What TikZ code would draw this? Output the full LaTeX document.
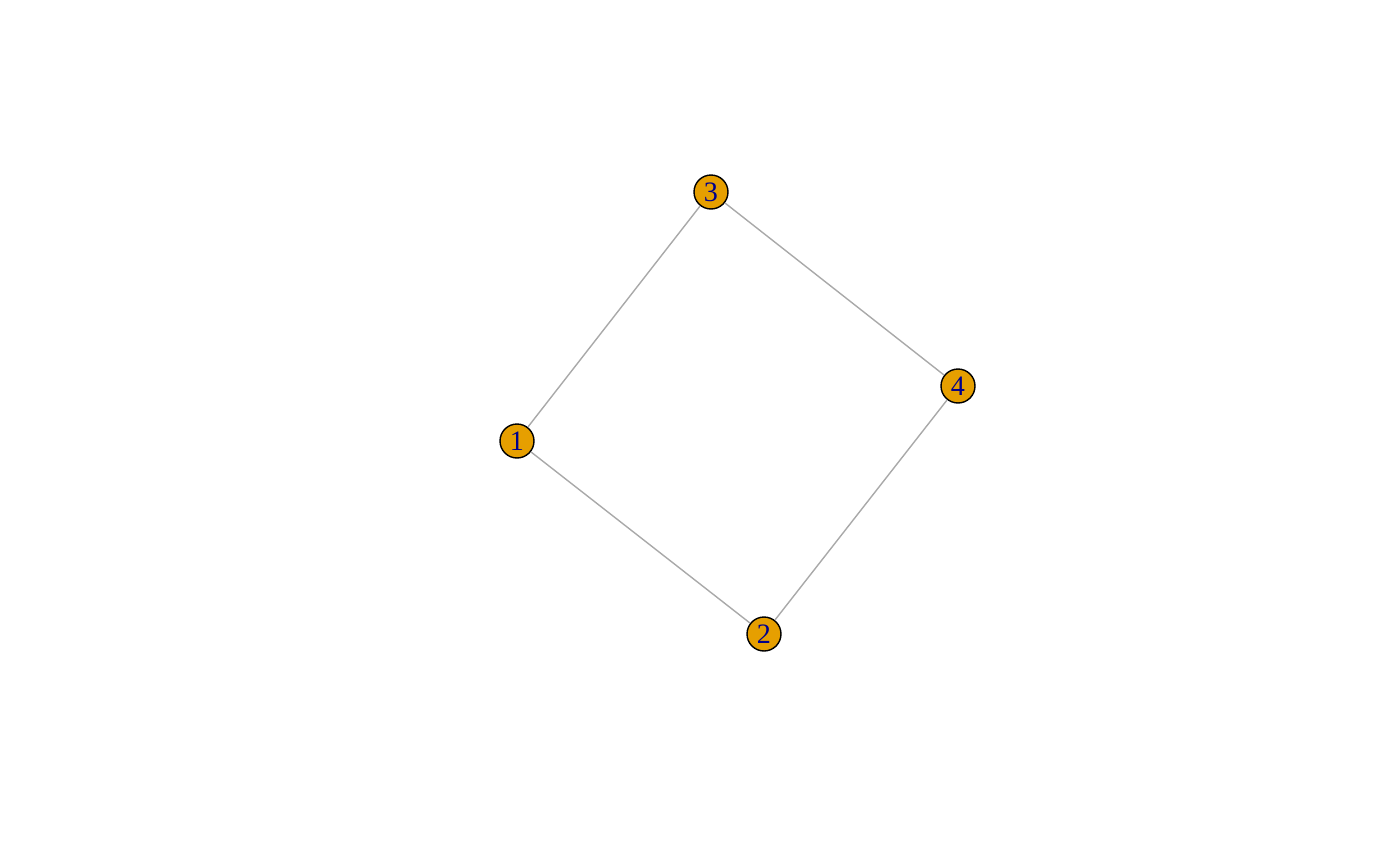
\documentclass[tikz,border=0pt]{standalone}
\usepackage{fontspec}
\setmainfont{Liberation Serif}
\definecolor{vorange}{HTML}{E69F00}
\definecolor{vblue}{HTML}{00008B}
\definecolor{egray}{HTML}{A9A9A9}
\begin{document}
\begin{tikzpicture}[x=0.02cm, y=-0.02cm,
  vertex/.style={circle,draw=black,line width=0.8pt,fill=vorange,minimum size=0.68cm,inner sep=0pt,
    text=vblue,font=\fontsize{16}{16}\selectfont},
  edge/.style={draw=egray,line width=0.8pt}]
\useasboundingbox (0,0) rectangle (1400,866);
\node[vertex] (n1) at (517,441) {1};
\node[vertex] (n2) at (764,634) {2};
\node[vertex] (n3) at (711,192) {3};
\node[vertex] (n4) at (958,386) {4};
\draw[edge] (n1) -- (n3);
\draw[edge] (n3) -- (n4);
\draw[edge] (n4) -- (n2);
\draw[edge] (n2) -- (n1);
\end{tikzpicture}
\end{document}
